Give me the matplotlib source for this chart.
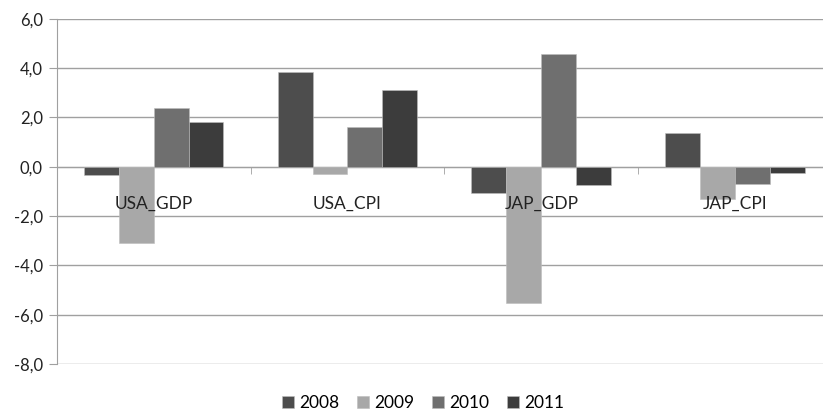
import matplotlib
matplotlib.use("Agg")
import matplotlib.pyplot as plt
import numpy as np

categories = ["USA_GDP", "USA_CPI", "JAP_GDP", "JAP_CPI"]
years = ["2008", "2009", "2010", "2011"]
v2008 = [-0.32, 3.84, -1.08, 1.35]
v2009 = [-3.08, -0.30, -5.51, -1.31]
v2010 = [2.39, 1.62, 4.57, -0.70]
v2011 = [1.81, 3.12, -0.73, -0.26]
series = [v2008, v2009, v2010, v2011]
colors = ["#4d4d4d", "#a8a8a8", "#6f6f6f", "#3c3c3c"]
yticks = [6, 4, 2, 0, -2, -4, -6, -8]

plt.rcParams['font.family'] = ['Lato', 'DejaVu Sans']
fig = plt.figure(figsize=(8.23, 4.13), dpi=100)
W, H = 823, 413
left, right, top, bottom = 56.7, 832, 18.7, 364
ax = fig.add_axes([left / W, 1 - bottom / H, (right - left) / W, (bottom - top) / H])

x = np.arange(len(categories))
bw = 0.18
for i, (vals, c, yr) in enumerate(zip(series, colors, years)):
    ax.bar(x + (i - 1.5) * bw, vals, width=bw, color=c, edgecolor="#bdbdbd",
           linewidth=0.4, label=yr, zorder=2)

ax.set_xlim(-0.5, 3.5)
ax.set_ylim(-8, 6)
ax.set_yticks(yticks)
ax.set_yticklabels([f"{t:.1f}".replace(".", ",") for t in yticks], fontsize=12, color="#222222")
ax.yaxis.grid(True, color="#a0a0a0", linewidth=1.0, zorder=0)
ax.set_axisbelow(True)

for s in ["top", "right"]:
    ax.spines[s].set_visible(False)
ax.spines["left"].set_color("#a0a0a0")
ax.spines["bottom"].set_color("#a0a0a0")
ax.spines["bottom"].set_position(("data", 0))
ax.spines["bottom"].set_zorder(1)

ax.set_xticks(x)
ax.set_xticklabels(categories, fontsize=12.5, color="#222222")
ax.tick_params(axis="x", which="major", length=0, pad=21)
ax.set_xticks(np.arange(-0.5, 4.0, 1.0), minor=True)
ax.tick_params(axis="x", which="minor", length=5, color="#a0a0a0", direction="out")
ax.tick_params(axis="y", length=6, color="#a0a0a0", pad=4)
ax.xaxis.set_zorder(3)

fig.legend(loc="center", bbox_to_anchor=(423 / W, 1 - 403 / H), ncol=4, frameon=False,
           fontsize=12.5, handlelength=0.7, handleheight=0.7, handletextpad=0.3,
           columnspacing=1.0, borderaxespad=0)

fig.savefig("out.png", dpi=100)
